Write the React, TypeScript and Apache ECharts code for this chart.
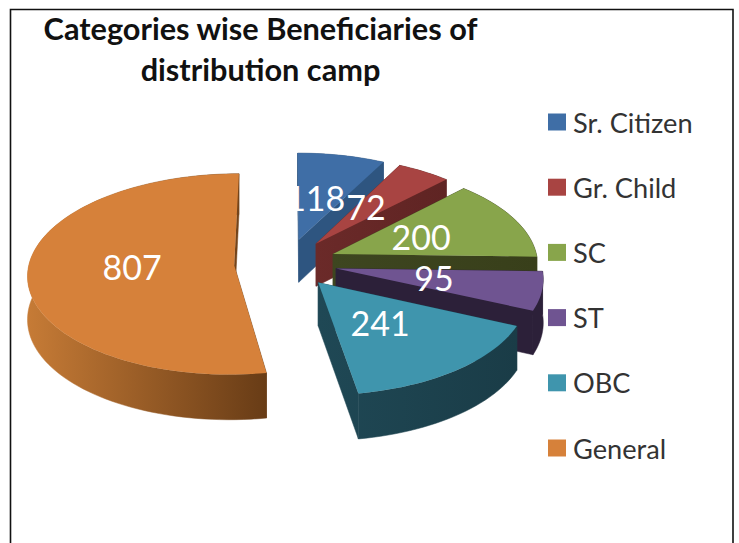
import React, { useEffect, useRef } from "react";
import * as echarts from "echarts";

const categories = ["Sr. Citizen", "Gr. Child", "SC", "ST", "OBC", "General"];
const values = [118, 72, 200, 95, 241, 807];
const titleLines = ["Categories wise Beneficiaries of", "distribution camp"];

const topColors = ["#3f6ea6", "#a84442", "#88a54b", "#6f5491", "#3f95ad", "#d6813a"];
const wallFrom = ["#2e5580", "#6b2a29", "#3e4620", "#2c2039", "#1f4855", "#c67b36"];
const wallTo = ["#2e5580", "#5f2423", "#383f1a", "#2c2039", "#1a3c47", "#683c16"];
const labelOffsets = [
  [17, -42], [50, -37], [88, -17], [98, 9], [62, 40], [-102, 1],
];
const explodes = [0.244, 0.244, 0.244, 0.244, 0.244, 0.258];

const CX = 287, CY = 263, RX = 205, RY = 100, PERSP = 0.09, DEPTH = 43, DEPTH_PERSP = 0.05;
const total = values.reduce((a, b) => a + b, 0);
const deg = Math.PI / 180;

function project(X: number, Y: number, drop = 0): number[] {
  const s = 1 + PERSP * Y;
  return [CX + RX * X * s, CY + RY * Y * s + drop * DEPTH * (1 + DEPTH_PERSP * Y)];
}

function sliceItem(index: number) {
  return function (_p: any, api: any) {
    const v = api.value(0);
    const before = values.slice(0, index).reduce((a, b) => a + b, 0);
    const a0 = (before / total) * 360;
    const a1 = a0 + (v / total) * 360;
    const m = ((a0 + a1) / 2) * deg;
    const ox = explodes[index] * Math.sin(m), oy = -explodes[index] * Math.cos(m);
    const steps = Math.max(4, Math.ceil((a1 - a0) / 2));
    const arcTop: number[][] = [], arcBot: number[][] = [];
    for (let i = 0; i <= steps; i++) {
      const t = (a0 + ((a1 - a0) * i) / steps) * deg;
      const X = ox + Math.sin(t), Y = oy - Math.cos(t);
      arcTop.push(project(X, Y));
      arcBot.push(project(X, Y, 1));
    }
    const apex = project(ox, oy), apexB = project(ox, oy, 1);
    const xs = arcTop.map((q) => q[0]).concat(apex[0]);
    const fill = new echarts.graphic.LinearGradient(
      Math.min(...xs), 0, Math.max(...xs), 0,
      [{ offset: 0, color: wallFrom[index] }, { offset: 1, color: wallTo[index] }], true,
    );
    const wallStyle = { fill, stroke: fill, lineWidth: 0.5 };
    const n = arcTop.length - 1;
    return {
      type: "group",
      children: [
        { type: "polygon", z2: index * 10 + 1, shape: { points: [apex, arcTop[0], arcBot[0], apexB] }, style: wallStyle },
        { type: "polygon", z2: index * 10 + 1, shape: { points: [apex, arcTop[n], arcBot[n], apexB] }, style: wallStyle },
        { type: "polygon", z2: index * 10 + 2, shape: { points: arcTop.concat(arcBot.slice().reverse()) }, style: wallStyle },
        { type: "polygon", z2: index * 10 + 3, shape: { points: [apex].concat(arcTop) }, style: { fill: topColors[index] } },
        {
          type: "text", z2: 200,
          x: apex[0] + labelOffsets[index][0], y: apex[1] + labelOffsets[index][1],
          style: { text: String(v), fill: "#ffffff", font: "34px Lato", textAlign: "center", textVerticalAlign: "middle" },
        },
      ],
    };
  };
}

export default function App() {
  const ref = useRef<HTMLDivElement>(null);
  useEffect(() => {
    const chart = echarts.init(ref.current!, null, { renderer: "svg" });
    chart.setOption({
      animation: false,
      backgroundColor: "#ffffff",
      title: {
        text: titleLines.join("\n"),
        left: 255.5, top: 3, textAlign: "center",
        textStyle: { fontFamily: "Lato", fontWeight: "bold", fontSize: 30.7, lineHeight: 41, color: "#111111" },
      },
      legend: {
        orient: "vertical", left: 548, top: 107, padding: 0, itemWidth: 18, itemHeight: 17, itemGap: 35.2,
        icon: "rect", data: categories,
        textStyle: { fontFamily: "Lato", fontSize: 27.2, lineHeight: 30, color: "#333333", padding: [0, 0, 0, 2] },
      },
      graphic: [
        {
          type: "polyline", silent: true,
          shape: { points: [[10.5, 543], [10.5, 9.5], [733, 9.5], [733, 543]] },
          style: { stroke: "#111111", lineWidth: 1.6, fill: "none" },
        },
      ],
      series: categories.map((name, i) => ({
        type: "custom", name, coordinateSystem: "none",
        itemStyle: { color: topColors[i] },
        data: [[values[i]]],
        renderItem: sliceItem(i),
      })),
    });
    return () => chart.dispose();
  }, []);
  return <div ref={ref} style={{ position: "fixed", left: 0, top: 0, width: 739, height: 543 }} />;
}
